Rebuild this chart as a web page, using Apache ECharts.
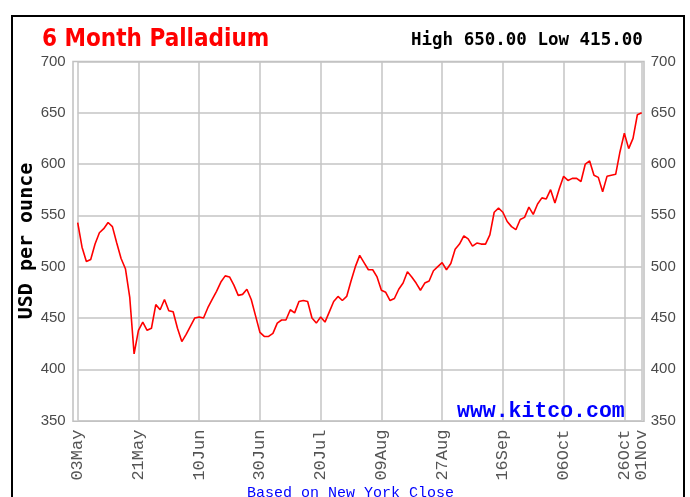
<!DOCTYPE html>
<html>
<head>
<meta charset="utf-8">
<script src="https://cdn.jsdelivr.net/npm/echarts@6/dist/echarts.min.js"></script>
<style>html,body{margin:0;padding:0;background:#fff;}#c{width:690px;height:497px;}</style>
</head>
<body>
<div id="c"></div>
<script>
// Palladium daily close (USD/oz), 03 May 2010 – 01 Nov 2010 (weekdays)
const prices = [
543,519,505,507,522,533,537,543,539,523,
508,498,470,415,438,446,438,440,463,458,
468,457,456,440,427,434,442,450,451,450,
460,468,476,485,491,490,482,472,473,478,
468,452,436,432,432,435,445,448,448,458,
455,466,467,466,450,445,451,446,456,466,
471,467,471,486,500,511,504,497,497,490,
477,475,467,469,478,484,495,490,484,477,
484,486,496,500,504,497,503,517,522,530,
527,520,523,522,522,531,553,557,553,544,
539,536,546,548,558,551,561,567,566,575,
562,576,588,584,586,586,583,600,603,589,
587,573,588,589,590,612,630,615,625,648,
650];
const tickLabels = ['03May','21May','10Jun','30Jun','20Jul','09Aug','27Aug','16Sep','06Oct','26Oct','01Nov'];
const yTicks = [350,400,450,500,550,600,650,700];
const titleText = '6 Month Palladium';
const hiLoText = 'High 650.00 Low 415.00';

// category labels: weekdays starting 03 May 2010
const months = ['Jan','Feb','Mar','Apr','May','Jun','Jul','Aug','Sep','Oct','Nov','Dec'];
const dates = [];
let d = new Date(Date.UTC(2010,4,3));
while (dates.length < prices.length) {
  const wd = d.getUTCDay();
  if (wd !== 0 && wd !== 6) {
    dates.push(String(d.getUTCDate()).padStart(2,'0') + months[d.getUTCMonth()]);
  }
  d = new Date(d.getTime() + 86400000);
}
const showTick = (i, v) => tickLabels.includes(dates[i]);

const chart = echarts.init(document.getElementById('c'), null, {renderer:'canvas'});
chart.setOption({
  animation: false,
  backgroundColor: '#ffffff',
  title: [
    {text: titleText, left: 37, top: 23,
     textStyle: {color:'#ff0000', fontFamily:'Liberation Sans Narrow, DejaVu Sans Condensed, Arial', fontWeight:'bold', fontSize:24}},
    {text: hiLoText, left: 406, top: 26,
     textStyle: {color:'#000', fontFamily:'DejaVu Sans Mono', fontWeight:'bold', fontSize:17.5}}
  ],
  graphic: [
    {type:'rect', shape:{x:12, y:16, width:672, height:500}, style:{fill:null, stroke:'#000', lineWidth:2}, z:-1},
    {type:'text', left:457, top:401, style:{text:'www.kitco.com', fill:'#0000ff', font:'bold 21.5px "Liberation Mono"'}, z:10},
    {type:'text', left:247, top:486, style:{text:'Based on New York Close', fill:'#0000ff', font:'15px "Liberation Mono"'}}
  ],
  grid: [
    {left:77.7, right:48.3, top:61.4, bottom:76.4, show:false},
    {left:73, right:46, top:61.4, bottom:75.8, show:true, borderColor:'#c0c0c0', borderWidth:1.5, backgroundColor:'transparent'}
  ],
  xAxis: [
    {type:'category', gridIndex:0, data:dates, boundaryGap:false,
     axisLine:{show:false}, axisTick:{show:false},
     axisLabel:{interval: showTick, rotate:90, margin:9, color:'#555', fontFamily:'Liberation Mono', fontSize:17},
     splitLine:{show:true, interval: showTick, lineStyle:{color:'#c4c4c4', width:1.5}}},
    {type:'value', gridIndex:1, show:false, min:0, max:1}
  ],
  yAxis: [
    {type:'value', gridIndex:0, min:yTicks[0], max:yTicks[yTicks.length-1], interval:50, position:'left',
     axisLine:{show:false}, axisTick:{show:false},
     axisLabel:{margin:12, color:'#4a4a4a', fontFamily:'Liberation Sans', fontSize:15},
     splitLine:{show:true, lineStyle:{color:'#c4c4c4', width:1.5}},
     name:'USD per ounce', nameLocation:'middle', nameGap:41, nameMoveOverlap:false,
     nameTextStyle:{color:'#000', fontFamily:'DejaVu Sans Mono', fontWeight:'bold', fontSize:20}},
    {type:'value', gridIndex:0, min:yTicks[0], max:yTicks[yTicks.length-1], interval:50, position:'right',
     axisLine:{show:false}, axisTick:{show:false}, splitLine:{show:false},
     axisLabel:{margin:9, color:'#4a4a4a', fontFamily:'Liberation Sans', fontSize:15}},
    {type:'value', gridIndex:1, show:false, min:0, max:1}
  ],
  series: [
    {type:'line', xAxisIndex:0, yAxisIndex:0, data:prices, showSymbol:false, symbol:'none',
     lineStyle:{color:'#ff0000', width:1.6}, z:5}
  ]
});
</script>
</body>
</html>
